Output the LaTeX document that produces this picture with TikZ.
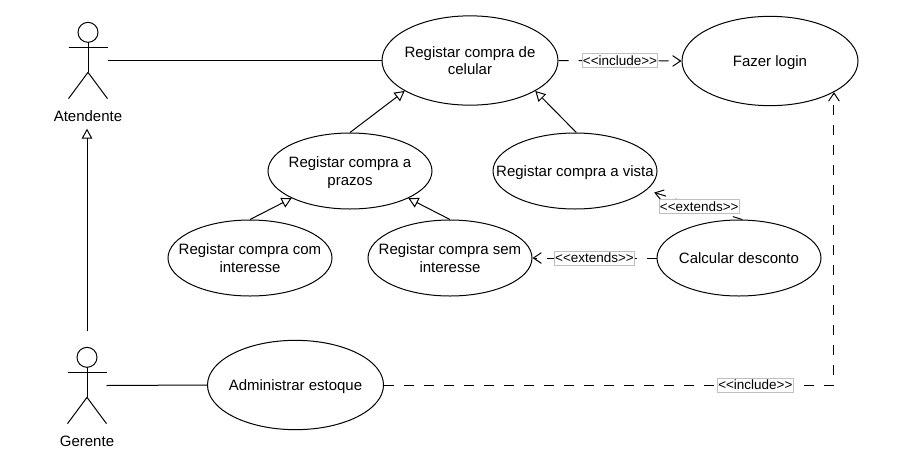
\documentclass[tikz,border=0pt]{standalone}
\usepackage{fontspec}
\setmainfont{Liberation Sans}
\usetikzlibrary{arrows.meta, positioning, shapes.geometric}

\begin{document}
\begin{tikzpicture}[
    x=0.75pt, y=-0.75pt,
    line width=0.75pt,
    useCase/.style={ellipse, draw, align=center, inner sep=-30pt, text depth=0pt, minimum width=123pt, minimum height=57pt, font=\fontsize{11.25}{13}\selectfont},
    bigCase/.style={useCase, minimum width=132pt, minimum height=67pt},
    actorBox/.style={minimum width=28.5pt, minimum height=56.5pt, inner sep=0pt},
    actorName/.style={inner sep=0pt, font=\fontsize{11.25}{13}\selectfont},
    assoc/.style={draw},
    generalize/.style={draw, -{Triangle[open, fill=white, length=7.5pt, width=8pt]}},
    depends/.style={draw, dash pattern=on 7.5pt off 7.5pt, -{Straight Barb[length=6pt, width=8pt]}},
    stereo/.style={draw=black!25, solid, line width=0.5pt, fill=white, inner xsep=0.5pt, inner ysep=1.5pt, font=\fontsize{10.1}{11}\selectfont}
  ]
    \useasboundingbox (0,0) rectangle (908,458);

    \node[bigCase] (compraCelular) at (470,60.5) {Registar compra de\\celular};
    \node[bigCase] (fazerLogin) at (770,61) {Fazer login};
    \node[useCase] (compraPrazos) at (350,171) {Registar compra a\\prazos};
    \node[useCase] (compraVista) at (575,171) {Registar compra a vista};
    \node[useCase] (compraCom) at (250,258) {Registar compra com\\interesse};
    \node[useCase] (compraSem) at (450,258) {Registar compra sem\\interesse};
    \node[useCase] (calcDesconto) at (739,258) {Calcular desconto};
    \node[bigCase] (admEstoque) at (295.5,385) {Administrar estoque};

    \node[actorBox] (atendente) at (88,60.5) {};
    \node[actorBox] (gerente) at (87,385.5) {};
    \node[actorName] (atendenteName) at (88,116) {Atendente};
    \node[actorName] (gerenteName) at (87,441) {Gerente};

    % stick figures
    \foreach \actorId in {atendente, gerente} {
      \draw ([yshift=-7.5pt]\actorId.north) circle (7.5pt);
      \draw ([yshift=-15pt]\actorId.north) -- ([yshift=-37.5pt]\actorId.north);
      \draw ([yshift=-18.75pt]\actorId.north west) -- ([yshift=-18.75pt]\actorId.north east);
      \draw ([yshift=-37.5pt]\actorId.north) -- (\actorId.south west);
      \draw ([yshift=-37.5pt]\actorId.north) -- (\actorId.south east);
    }

    \draw[assoc] (atendente.east) -- (compraCelular.west);
    \draw[assoc] (gerente.east) -- (admEstoque.west);
    \draw[generalize, shorten <=12pt, shorten >=5pt] (gerente.north) -- (gerente.north |- atendenteName.south);

    \draw[generalize] (compraPrazos.north) -- (compraCelular.205);
    \draw[generalize] (compraVista.88) -- (compraCelular.335);
    \draw[generalize] (compraCom.north) -- (compraPrazos.205);
    \draw[generalize] (compraSem.north) -- (compraPrazos.335);

    \draw[depends] (compraCelular.east) -- node[stereo] {<{}<include>{}>} (fazerLogin.west);
    \draw[depends] (calcDesconto.west) -- node[stereo] {<{}<extends>{}>} (compraSem.east);
    \draw[depends, shorten >=6pt] (calcDesconto.85) -- node[stereo, pos=0.45] {<{}<extends>{}>} (compraVista.-15);
    \draw[depends] (admEstoque.east) -| node[stereo, pos=0.4126] {<{}<include>{}>} (fazerLogin.-26);
  \end{tikzpicture}
\end{document}
